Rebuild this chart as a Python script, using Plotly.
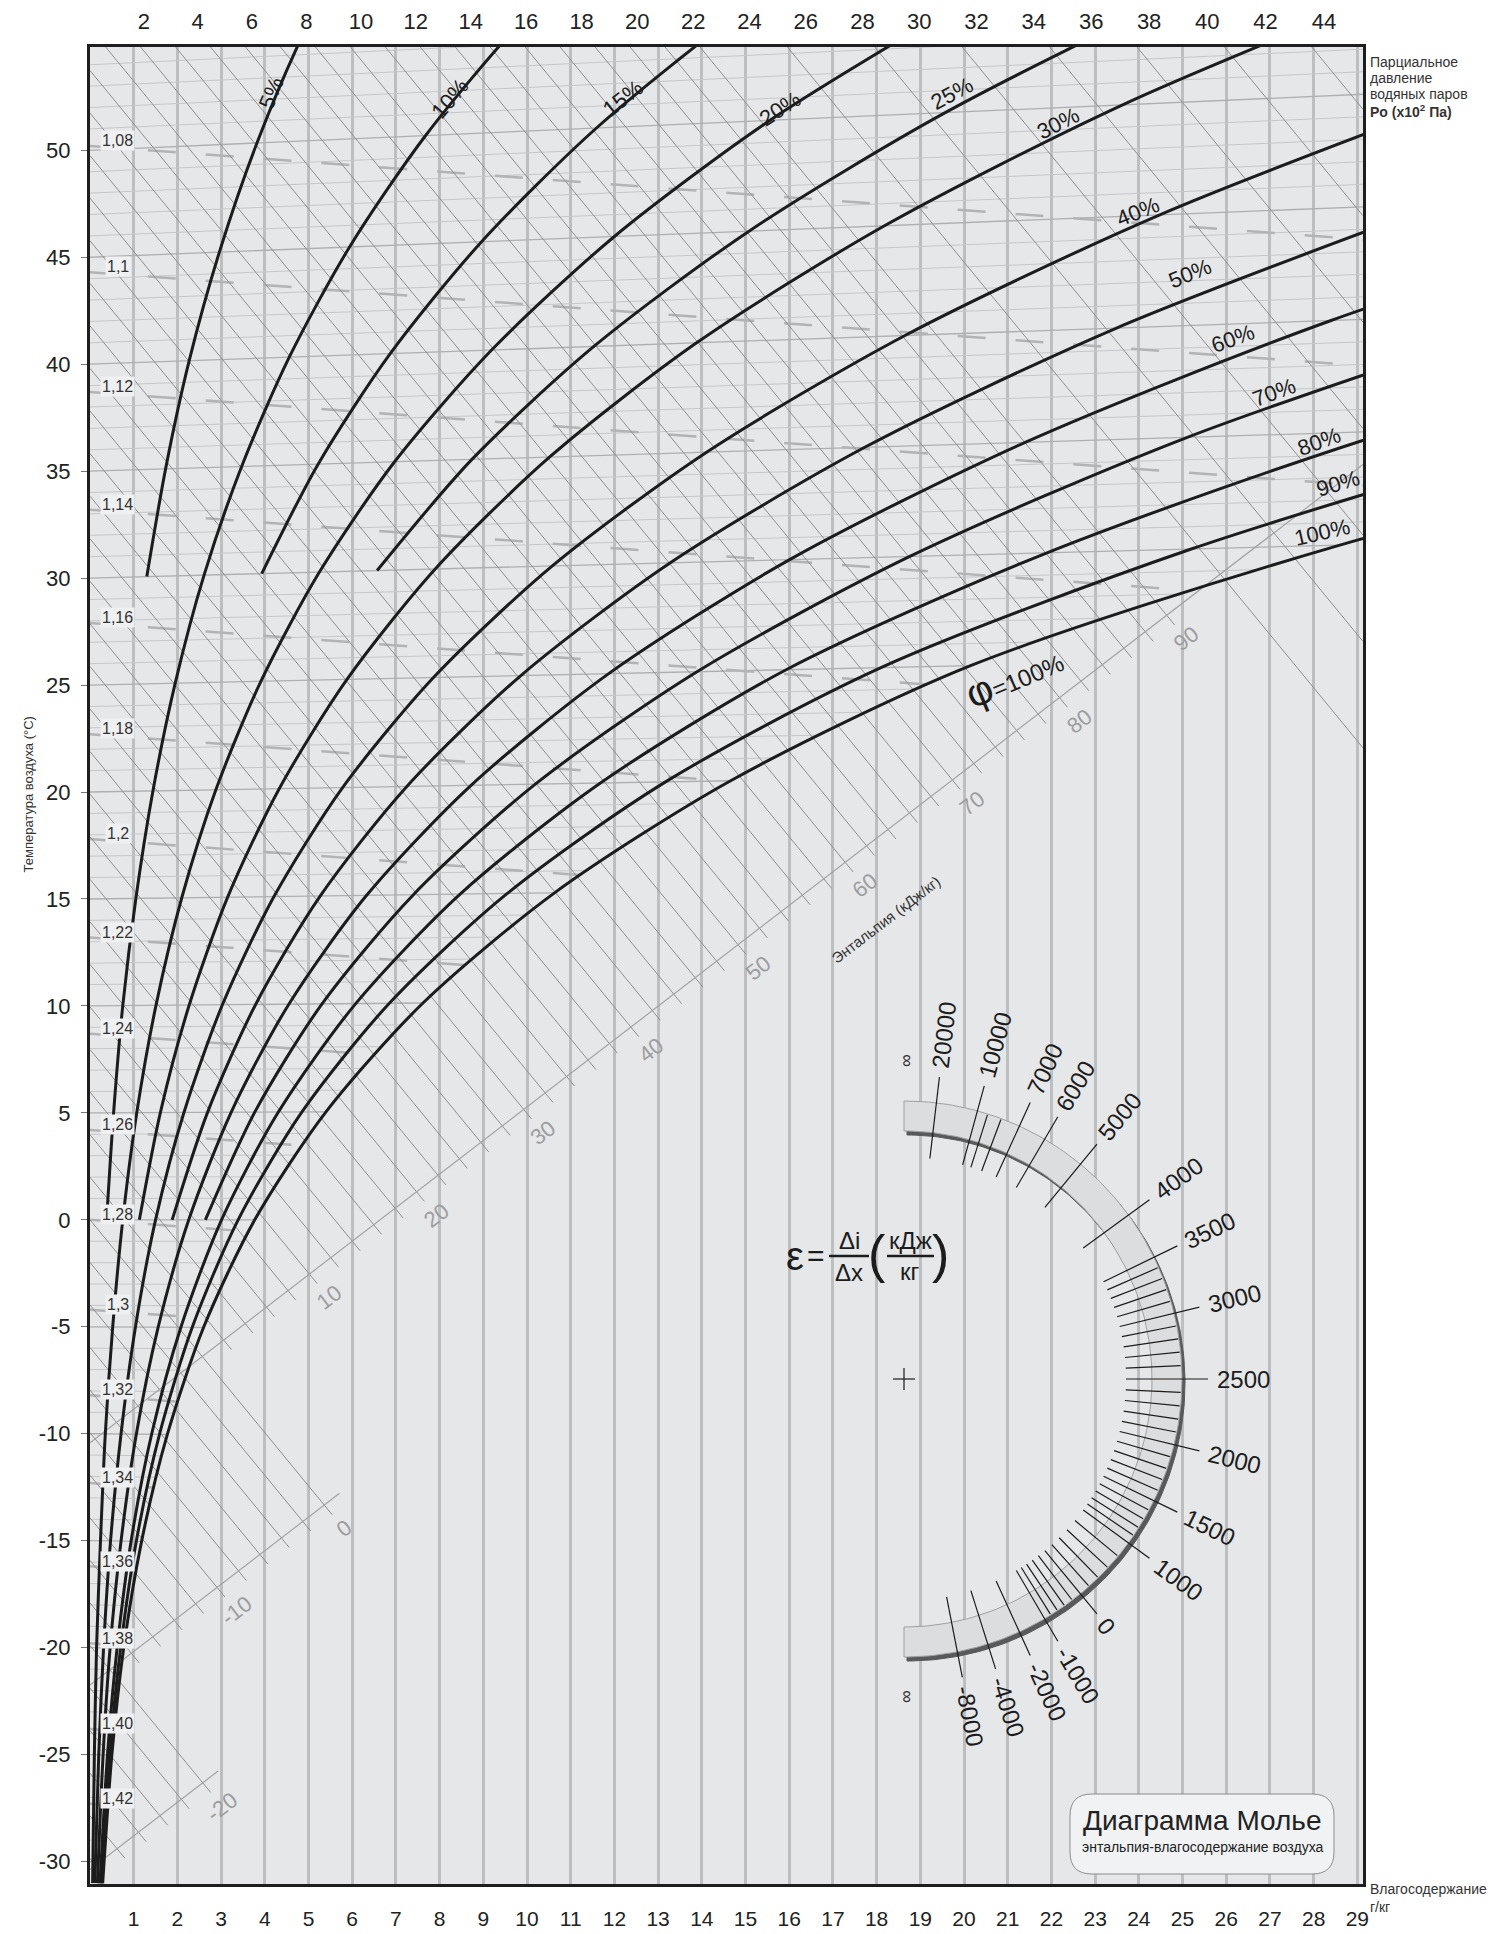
import math
import numpy as np
import plotly.graph_objects as go

FONT = "Liberation Sans, Arial, Helvetica, sans-serif"

# ---------------- values ----------------
D_TICKS = list(range(1, 30))                 # moisture content, g/kg (bottom)
P_TICKS = list(range(2, 45, 2))              # partial pressure, x10^2 Pa (top)
T_TICKS = list(range(-30, 51, 5))            # air temperature, deg C (left)

# relative humidity curves: temperature (deg C) -> moisture content (g/kg)
RH5_T = [30, 35, 40, 45, 50, 55, 60]
RH5_D = [1.30, 1.73, 2.27, 2.96, 3.82, 4.89, 6.21]
RH10_T = [0, 5, 10, 15, 20, 25, 30, 35, 40, 45, 50, 55, 60]
RH10_D = [0.38, 0.54, 0.75, 1.05, 1.44, 1.95, 2.61, 3.47, 4.56, 5.94, 7.68, 9.85, 12.54]
RH15_T = [30, 35, 40, 45, 50, 55, 60]
RH15_D = [3.93, 5.22, 6.87, 8.96, 11.59, 14.89, 19.0]
RH20_T = [-31, -25, -20, -15, -10, -5, 0, 5, 10, 15, 20, 25, 30, 35, 40, 45, 50, 55]
RH20_D = [0.06, 0.10, 0.15, 0.24, 0.35, 0.52, 0.75, 1.07, 1.51, 2.10, 2.88, 3.91, 5.25,
          6.97, 9.19, 12.00, 15.56, 20.02]
RH25_T = [30, 35, 40, 45, 50, 55, 60]
RH25_D = [6.57, 8.74, 11.53, 15.08, 19.57, 25.23, 32.33]
RH30_T = [0, 5, 10, 15, 20, 25, 30, 35, 40, 45, 50, 55]
RH30_D = [1.13, 1.61, 2.27, 3.15, 4.33, 5.88, 7.90, 10.52, 13.88, 18.18, 23.63, 30.52]
RH40_T = [-31, -25, -20, -15, -10, -5, 0, 5, 10, 15, 20, 25, 30, 35, 40, 45, 50]
RH40_D = [0.11, 0.20, 0.31, 0.47, 0.71, 1.04, 1.50, 2.15, 3.03, 4.21, 5.78, 7.86, 10.58,
          14.11, 18.65, 24.48, 31.91]
RH50_T = [0, 5, 10, 15, 20, 25, 30, 35, 40, 45]
RH50_D = [1.88, 2.69, 3.79, 5.27, 7.25, 9.86, 13.28, 17.73, 23.49, 30.90]
RH60_T = [-31, -25, -20, -15, -10, -5, 0, 5, 10, 15, 20, 25, 30, 35, 40, 45]
RH60_D = [0.17, 0.30, 0.46, 0.71, 1.06, 1.56, 2.26, 3.23, 4.55, 6.33, 8.72, 11.87, 16.01,
          21.40, 28.40, 37.46]
RH70_T = [0, 5, 10, 15, 20, 25, 30, 35, 40]
RH70_D = [2.64, 3.77, 5.31, 7.40, 10.19, 13.89, 18.76, 25.11, 33.39]
RH80_T = [-31, -25, -20, -15, -10, -5, 0, 5, 10, 15, 20, 25, 30, 35, 40]
RH80_D = [0.23, 0.40, 0.62, 0.94, 1.41, 2.08, 3.01, 4.31, 6.08, 8.47, 11.68, 15.93, 21.9,
          29.8, 40.5]
RH90_T = [-31, -25, -20, -15, -10, -5, 0, 5, 10, 15, 20, 25, 30, 35]
RH90_D = [0.26, 0.45, 0.70, 1.06, 1.59, 2.34, 3.39, 4.85, 6.85, 9.55, 13.17, 18.1, 25.2, 34.5]
RH100_T = [-31, -25, -20, -15, -10, -5, 0, 5, 10, 15, 20, 25, 30, 35]
RH100_D = [0.29, 0.50, 0.77, 1.18, 1.77, 2.60, 3.77, 5.40, 7.62, 10.63, 14.66, 20.15, 28.6, 40.0]

RH_LABELS = ["5%", "10%", "15%", "20%", "25%", "30%", "40%", "50%", "60%", "70%", "80%", "90%", "100%"]
RH_LABEL_D = [4.15, 8.24, 12.19, 15.80, 19.73, 22.15, 23.99, 25.17, 26.16, 27.09, 28.13, 28.56, 28.19]
RH_LABEL_Y = [52.71, 52.42, 52.42, 51.96, 52.65, 51.27, 47.12, 44.24, 41.18, 38.70, 36.40, 34.43, 32.13]
RH_LABEL_ANGLE = [-68, -50, -38, -33, -28, -27, -22, -22, -20, -20, -20, -17, -13]

# air density lines (kg/m3): label and temperature where the line leaves the left edge
DENSITY_LABELS = ["1,08", "1,1", "1,12", "1,14", "1,16", "1,18", "1,2", "1,22", "1,24",
                  "1,26", "1,28", "1,3", "1,32", "1,34", "1,36", "1,38", "1,40", "1,42"]
DENSITY_T0 = [50.2, 44.3, 38.7, 33.2, 27.9, 22.7, 17.8, 13.2, 8.7, 4.2, 0.0, -4.2, -8.2,
              -12.3, -16.2, -19.8, -23.8, -27.3]

# enthalpy (kJ/kg)
ENT_SCALE_LABELS = [-20, -10, 0, 10, 20, 30, 40, 50, 60, 70, 80, 90]
ENT_EDGE_LABELS = [95, 100, 105, 110, 115, 120, 125]

# heat/moisture ratio scale, kJ/kg
EPS_MAJOR = [20000, 10000, 7000, 6000, 5000, 4000, 3500, 3000, 2500, 2000, 1500, 1000,
             0, -1000, -2000, -4000, -8000]
EPS_MINOR = ([9000, 8000] + [e for e in range(1100, 3500, 100) if e % 500]
             + [800, 600, 400, 200, -200, -400, -600, -800])

# ---------------- chart geometry ----------------
D_MAX = 29.13
Y_MIN, Y_MAX = -31.05, 54.83
ISO_TILT = 0.0018          # isotherms rise slightly with moisture content
ENT_DD = 2.5               # enthalpy shift per g/kg
AXIS_SLOPE = 1.57          # enthalpy scale lines (deg C per g/kg)
W, H = 1497, 1934
ML, MR, MT, MB = 90, 134, 47, 50
PW, PH = W - ML - MR, H - MT - MB
PXG = PW / D_MAX
PXC = PH / (Y_MAX - Y_MIN)

GRID_V = "#bdbec0"
ISO_MINOR = "#c6c7c9"
ISO_MAJOR = "#aeafb1"
ENT_COL = "#8e8f91"
DENS_COL = "#b2b3b5"
LBL_GRAY = "#9c9d9f"
INK = "#1c1c1c"


def proj(t, d):
    return np.asarray(t, float) * (1 + ISO_TILT * np.asarray(d, float))


def ent_y(i, d):
    return (i - ENT_DD * d) / 1.005


def sat_d(t):
    return np.exp(np.interp(t, RH100_T, np.log(RH100_D)))


def paper(x, y):
    return (x - ML) / PW, (H - MB - y) / PH


fig = go.Figure()

# isotherms, ending at the saturation curve
for major in (False, True):
    xs, ys = [], []
    for t in range(-31, 55):
        if (t % 5 == 0) != major:
            continue
        d_end = min(float(sat_d(t)), D_MAX)
        xs += [0, d_end, None]
        ys += [t, float(proj(t, d_end)), None]
    fig.add_trace(go.Scatter(x=xs, y=ys, mode="lines", hoverinfo="skip",
                             line=dict(color=ISO_MAJOR if major else ISO_MINOR,
                                       width=1.3 if major else 1)))

# density lines (dashed)
ts = np.arange(-31, 35, 0.02)
sd = sat_d(ts)
sy = proj(ts, sd)
dx, dy = [], []
for y0 in DENSITY_T0:
    f = sy - (y0 - 0.15 * sd)
    hit = np.where(f >= 0)[0]
    d_end = min(float(sd[hit[0]]), D_MAX) if len(hit) else D_MAX
    dx += [0, d_end, None]
    dy += [y0, y0 - 0.15 * d_end, None]
fig.add_trace(go.Scatter(x=dx, y=dy, mode="lines", hoverinfo="skip",
                         line=dict(color=DENS_COL, width=2.5, dash="28px,30px")))

# enthalpy lines and their scale lines
AX_MAIN, AX_MID, AX_LOW = -10.42, -21.75, -30.37


def scale_of(i):
    return AX_LOW if i <= -20 else (AX_MID if i <= 0 else AX_MAIN)


def axis_hit(i, c):
    return (i - 1.005 * c) / (ENT_DD + 1.005 * AXIS_SLOPE)


ex, ey = [], []
for i in list(range(-30, 91, 2)) + ENT_EDGE_LABELS:
    d0 = max(0.0, (i - 1.005 * Y_MAX) / ENT_DD)
    d1 = D_MAX if i > 90 else axis_hit(i, scale_of(i)) + 0.18
    if d1 > d0:
        ex += [d0, d1, None]
        ey += [ent_y(i, d0), ent_y(i, d1), None]
fig.add_trace(go.Scatter(x=ex, y=ey, mode="lines", hoverinfo="skip",
                         line=dict(color=ENT_COL, width=1)))

sx, sy2 = [], []
for c, d_stop in ((AX_MAIN, D_MAX), (AX_MID, axis_hit(0, AX_MID) + 0.35),
                  (AX_LOW, axis_hit(-20, AX_LOW) + 0.35)):
    sx += [0, d_stop, None]
    sy2 += [c, AXIS_SLOPE * d_stop + c, None]
fig.add_trace(go.Scatter(x=sx, y=sy2, mode="lines", hoverinfo="skip",
                         line=dict(color="#a2a3a5", width=1.2)))

# relative humidity curves
for t_arr, d_arr in ((RH5_T, RH5_D), (RH10_T, RH10_D), (RH15_T, RH15_D), (RH20_T, RH20_D),
                     (RH25_T, RH25_D), (RH30_T, RH30_D), (RH40_T, RH40_D), (RH50_T, RH50_D),
                     (RH60_T, RH60_D), (RH70_T, RH70_D), (RH80_T, RH80_D), (RH90_T, RH90_D),
                     (RH100_T, RH100_D)):
    fig.add_trace(go.Scatter(x=d_arr, y=proj(t_arr, d_arr), mode="lines", hoverinfo="skip",
                             line=dict(color=INK, width=3, shape="spline", smoothing=0.8)))

# dummy trace so the top axis is drawn
fig.add_trace(go.Scatter(x=[None], y=[None], xaxis="x2", yaxis="y", showlegend=False))

ann = []
for txt, d, y, a in zip(RH_LABELS, RH_LABEL_D, RH_LABEL_Y, RH_LABEL_ANGLE):
    ann.append(dict(x=d, y=y, text=txt, textangle=a, showarrow=False,
                    font=dict(size=22, color=INK)))
ann.append(dict(x=21.14, y=25.44, showarrow=False, textangle=-23,
                text='<span style="font-size:40px">φ</span>=100%',
                font=dict(size=24, color=INK)))

for txt, y0 in zip(DENSITY_LABELS, DENSITY_T0):
    ann.append(dict(x=0.63, y=y0 + 0.25, text=txt, showarrow=False, bgcolor="#eff0f1",
                    borderpad=1, font=dict(size=16, color="#333333")))

for i in ENT_SCALE_LABELS:
    c = scale_of(i)
    d = axis_hit(i, c)
    ann.append(dict(x=d + 0.45, y=AXIS_SLOPE * d + c - 1.1, text=str(i), textangle=-37.5,
                    showarrow=False, font=dict(size=22, color=LBL_GRAY)))
for i in ENT_EDGE_LABELS:
    ann.append(dict(x=D_MAX + 0.48, y=ent_y(i, D_MAX) - 0.85, text=str(i), textangle=-37.5,
                    showarrow=False, font=dict(size=17, color=LBL_GRAY)))
ann.append(dict(x=18.22, y=14.02, text="Энтальпия (кДж/кг)", textangle=-37.5, showarrow=False,
                font=dict(size=15, color="#333333")))

# ---------------- heat/moisture ratio protractor (pixel overlay) ----------------
CX, CY = 904, 1379
R_IN, R_OUT = 248, 278


def eps_theta(e):
    return math.atan2(PXC * (e / 1000 - 2.5) / 1.005, PXG)


def ring(r0, r1, dx=0, dy=0):
    a = np.linspace(math.pi / 2, -math.pi / 2, 181)
    xo = CX + dx + r1 * np.cos(a)
    yo = CY + dy - r1 * np.sin(a)
    xi = CX + dx + r0 * np.cos(a[::-1])
    yi = CY + dy - r0 * np.sin(a[::-1])
    return list(xo) + list(xi) + [xo[0]], list(yo) + list(yi) + [yo[0]]


rx, ry = ring(R_IN, R_OUT, 3, 4)
fig.add_trace(go.Scatter(x=rx, y=ry, xaxis="x3", yaxis="y3", mode="lines", fill="toself",
                         fillcolor="#58595b", line=dict(color="#58595b", width=1),
                         hoverinfo="skip"))
rx, ry = ring(R_IN, R_OUT)
fig.add_trace(go.Scatter(x=rx, y=ry, xaxis="x3", yaxis="y3", mode="lines", fill="toself",
                         fillcolor="#dcdddf", line=dict(color="#9fa0a2", width=1),
                         hoverinfo="skip"))

tx, ty = [], []
for e in EPS_MAJOR + EPS_MINOR:
    th = eps_theta(e)
    r1 = 304 if e in EPS_MAJOR else 277
    tx += [CX + 222 * math.cos(th), CX + r1 * math.cos(th), None]
    ty += [CY - 222 * math.sin(th), CY - r1 * math.sin(th), None]
tx += [CX - 11, CX + 11, None, CX, CX, None]
ty += [CY, CY, None, CY - 11, CY + 11, None]
fig.add_trace(go.Scatter(x=tx, y=ty, xaxis="x3", yaxis="y3", mode="lines",
                         line=dict(color=INK, width=1.2), hoverinfo="skip"))

for e in EPS_MAJOR:
    th = eps_theta(e)
    txt = str(e)
    length = sum(8 if ch == "-" else 13.4 for ch in txt)
    r = 313 + length / 2
    ann.append(dict(x=CX + r * math.cos(th), y=CY - r * math.sin(th), xref="x3", yref="y3",
                    text=txt, textangle=-math.degrees(th), showarrow=False,
                    font=dict(size=24, color=INK)))
for th in (math.pi / 2, -math.pi / 2):
    ann.append(dict(x=CX + 2 + 318 * math.cos(th), y=CY - 318 * math.sin(th), xref="x3",
                    yref="y3", text="∞", textangle=-90, showarrow=False,
                    font=dict(size=18, color="#333333")))

# epsilon formula
for txt, x, y, s in (("ε", 795, 1256, 40), ("=", 816, 1255, 30), ("Δi", 849, 1240, 24),
                     ("Δx", 849, 1272, 24), ("(", 877, 1254, 52), ("кДж", 910, 1240, 24),
                     ("кг", 910, 1271, 24), (")", 940, 1254, 52)):
    ann.append(dict(x=x, y=y, xref="x3", yref="y3", text=txt, showarrow=False,
                    font=dict(size=s, color=INK)))

shapes = [
    dict(type="line", xref="x3", yref="y3", x0=829, x1=869, y0=1256, y1=1256,
         line=dict(color=INK, width=2.5)),
    dict(type="line", xref="x3", yref="y3", x0=887, x1=934, y0=1256, y1=1256,
         line=dict(color=INK, width=2.5)),
]

# title box
x0, y0, x1, y1, r = 1070, 1794, 1334, 1874, 22
shapes.append(dict(
    type="path", xref="x3", yref="y3", fillcolor="#f1f2f3", line=dict(color="#8b8c8e", width=1),
    path=(f"M{x0 + r},{y0} L{x1 - r},{y0} Q{x1},{y0} {x1},{y0 + r} L{x1},{y1 - r} "
          f"Q{x1},{y1} {x1 - r},{y1} L{x0 + r},{y1} Q{x0},{y1} {x0},{y1 - r} "
          f"L{x0},{y0 + r} Q{x0},{y0} {x0 + r},{y0} Z")))
ann.append(dict(x=1202, y=1820, xref="x3", yref="y3", text="Диаграмма Молье", showarrow=False,
                font=dict(size=28, color="#222222")))
ann.append(dict(x=1202, y=1847, xref="x3", yref="y3", showarrow=False,
                text="энтальпия-влагосодержание воздуха", font=dict(size=14, color="#222222")))

# texts outside the frame
for txt, y in (("Парциальное", 52), ("давление", 68), ("водяных паров", 84),
               ("<b>Po (x10<sup>2</sup> Па)</b>", 100), ("Влагосодержание", 1899), ("г/кг", 1917)):
    px_, py_ = paper(1368, y)
    ann.append(dict(x=px_, y=py_, xref="paper", yref="paper", xanchor="left", text=txt,
                    showarrow=False, font=dict(size=14, color="#333333")))
px_, py_ = paper(18, 795)
ann.append(dict(x=px_, y=py_, xref="paper", yref="paper", text="Температура воздуха (°C)",
                textangle=-90, showarrow=False, font=dict(size=13, color="#333333")))

p_pos = [622 * p / (1013.25 - p) for p in P_TICKS]

fig.update_layout(
    width=W, height=H, autosize=False,
    margin=dict(l=ML, r=MR, t=MT, b=MB, pad=0),
    plot_bgcolor="#e6e7e9", paper_bgcolor="white",
    showlegend=False,
    font=dict(family=FONT, color="#222222"),
    xaxis=dict(range=[0, D_MAX], tickvals=D_TICKS, ticktext=[str(v) for v in D_TICKS],
               showgrid=True, gridcolor=GRID_V, gridwidth=3, zeroline=False, automargin=False,
               showline=True, mirror=True, linecolor="#1e1e1e", linewidth=3,
               ticks="", ticklabelstandoff=14, tickfont=dict(size=21)),
    xaxis2=dict(range=[0, D_MAX], overlaying="x", side="top", anchor="y", automargin=False,
                tickvals=p_pos, ticktext=[str(p) for p in P_TICKS], showgrid=False,
                zeroline=False, showline=False, ticks="", ticklabelstandoff=13,
                tickfont=dict(size=22)),
    yaxis=dict(range=[Y_MIN, Y_MAX], tickvals=T_TICKS, ticktext=[str(v) for v in T_TICKS],
               showgrid=False, zeroline=False, showline=True, mirror=True, automargin=False,
               linecolor="#1e1e1e", linewidth=3, ticks="outside", ticklen=6,
               tickcolor="#777777", ticklabelstandoff=6, tickfont=dict(size=22)),
    xaxis3=dict(range=[ML, ML + PW], overlaying="x", visible=False, automargin=False),
    yaxis3=dict(range=[MT + PH, MT], overlaying="y", visible=False, automargin=False),
    annotations=ann,
    shapes=shapes,
)

# the page's default body margin would shift the figure; remove it
fig.write_html("out.html", config={"displayModeBar": False},
               post_script="document.body.style.margin='0px';")
